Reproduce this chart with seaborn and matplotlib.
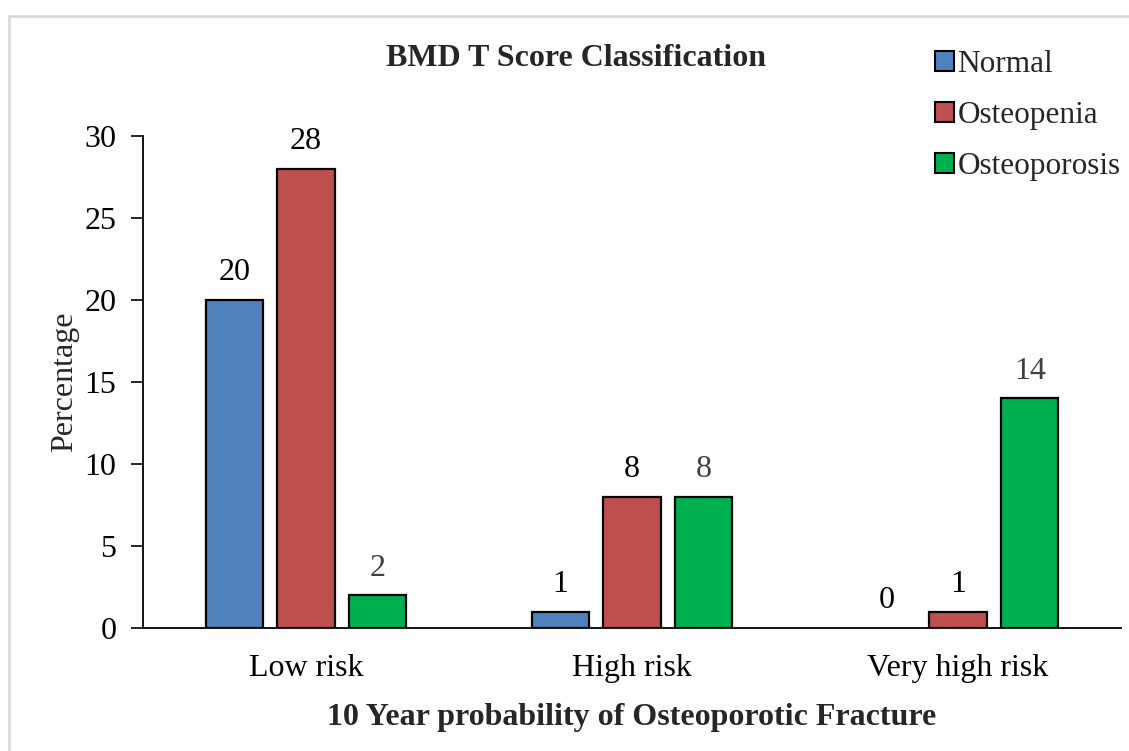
import matplotlib
matplotlib.use("Agg")
import matplotlib.pyplot as plt
import seaborn as sns
import pandas as pd
from matplotlib.patches import Rectangle

categories = ["Low risk", "High risk", "Very high risk"]
groups = ["Normal", "Osteopenia", "Osteoporosis"]
normal = [20, 1, 0]
osteopenia = [28, 8, 1]
osteoporosis = [2, 8, 14]
colors = ["#4f81bd", "#c0504d", "#00b050"]
label_colors = ["#000000", "#000000", "#404040"]

df = pd.DataFrame({
    "risk": categories * 3,
    "group": [g for g in groups for _ in categories],
    "value": normal + osteopenia + osteoporosis,
})

sns.set_theme(style="white")
plt.rcParams["font.family"] = ["Liberation Serif", "DejaVu Serif"]

FS = 23

fig = plt.figure(figsize=(11.29, 7.51), dpi=100)
ax = fig.add_axes([143 / 1129, 1 - 628 / 751, (1121 - 143) / 1129, (628 - 136) / 751])

sns.barplot(data=df, x="risk", y="value", hue="group", order=categories,
            hue_order=groups, palette=colors, saturation=1, width=0.66, gap=0.2,
            edgecolor="black", linewidth=1.6, ax=ax, legend=True)

# zero-height bars leave no visible outline
for p in ax.patches:
    if p.get_height() == 0:
        p.set_linewidth(0)

for cont, lc in zip(ax.containers, label_colors):
    ax.bar_label(cont, labels=[f"{v:g}" for v in cont.datavalues],
                 padding=9, fontsize=FS, color=lc)

ax.set_ylim(0, 30)
ax.set_yticks(range(0, 31, 5))
ax.tick_params(axis="y", labelsize=FS, length=9, width=1.2, direction="out",
               left=True, pad=10, colors="black")
ax.tick_params(axis="x", labelsize=FS, length=0, pad=19, colors="black")
for side in ["top", "right"]:
    ax.spines[side].set_visible(False)
for side in ["left", "bottom"]:
    ax.spines[side].set_color("black")
    ax.spines[side].set_linewidth(1.3)

ax.set_ylabel("Percentage", fontsize=FS, labelpad=4)
ax.set_xlabel("10 Year probability of Osteoporotic Fracture", fontsize=FS,
              fontweight="bold", labelpad=14)

fig.text(576 / 1129, 1 - 59 / 751, "BMD T Score Classification", fontsize=FS,
         fontweight="bold", ha="center", va="center")

handles, labels = ax.get_legend_handles_labels()
ax.get_legend().remove()
for h in handles:
    h.set_edgecolor("black")
    h.set_linewidth(1.5)
fig.legend(handles, labels, loc="upper left", bbox_to_anchor=(913 / 1129, 1 - 28 / 751),
           frameon=False, fontsize=22.5, handlelength=0.6, handleheight=0.6,
           handletextpad=0.12, labelspacing=0.7, borderpad=0.2)

fig.patches.append(Rectangle((9 / 1129, -0.01), 1.02, 1 - 16 / 751 + 0.01,
                             transform=fig.transFigure, fill=False,
                             edgecolor="#d9d9d9", linewidth=2))

fig.savefig("out.png", dpi=100)
